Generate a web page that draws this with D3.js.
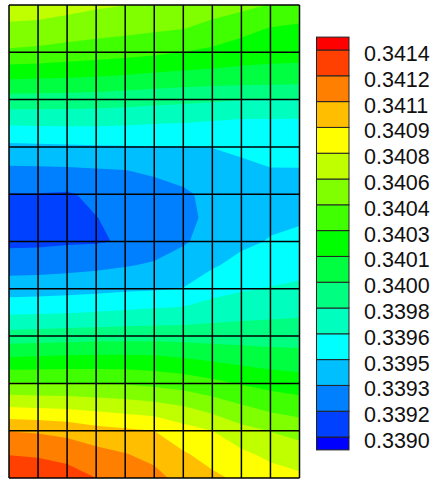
<!DOCTYPE html>
<html>
<head>
<meta charset="utf-8">
<style>
    body { margin: 0; background: #fff; }
    .cbar text { font: 21.5px "Liberation Sans", Arial, sans-serif; fill: #111; }
</style>
<script src="https://d3js.org/d3.v7.min.js"></script>
<script>
// contour levels on the colour bar, lowest first
var levels = [0.33900, 0.33916, 0.33932, 0.33948, 0.33964, 0.33980, 0.33996, 0.34012,
              0.34028, 0.34044, 0.34060, 0.34076, 0.34092, 0.34108, 0.34124, 0.34140];

// below the first level, one per band, above the last level
var bandColors = ['#0000ff', '#0040ff', '#0080ff', '#00bfff', '#00ffff', '#00ffbf',
                  '#00ff80', '#00ff40', '#00ff00', '#40ff00', '#80ff00', '#bfff00',
                  '#ffff00', '#ffbf00', '#ff8000', '#ff4000', '#ff0000'];

// nodal values, top row first (11 nodes across, 21 down)
var field = [
    [0.340696, 0.340685, 0.340653, 0.340622, 0.340603, 0.340584, 0.340576, 0.340520, 0.340485, 0.340432, 0.340368],
    [0.340560, 0.340550, 0.340528, 0.340506, 0.340486, 0.340464, 0.340443, 0.340387, 0.340328, 0.340270, 0.340256],
    [0.340416, 0.340400, 0.340374, 0.340352, 0.340333, 0.340310, 0.340278, 0.340248, 0.340202, 0.340182, 0.340174],
    [0.340155, 0.340146, 0.340139, 0.340128, 0.340110, 0.340088, 0.340072, 0.340062, 0.340059, 0.340054, 0.340051],
    [0.339896, 0.339893, 0.339888, 0.339882, 0.339867, 0.339850, 0.339837, 0.339822, 0.339805, 0.339800, 0.339795],
    [0.339658, 0.339664, 0.339666, 0.339664, 0.339658, 0.339646, 0.339637, 0.339621, 0.339605, 0.339606, 0.339603],
    [0.339445, 0.339451, 0.339459, 0.339467, 0.339470, 0.339475, 0.339478, 0.339483, 0.339506, 0.339534, 0.339538],
    [0.339288, 0.339291, 0.339296, 0.339306, 0.339317, 0.339344, 0.339376, 0.339416, 0.339448, 0.339472, 0.339472],
    [0.339155, 0.339154, 0.339144, 0.339192, 0.339240, 0.339256, 0.339296, 0.339360, 0.339419, 0.339440, 0.339419],
    [0.339096, 0.339099, 0.339104, 0.339157, 0.339200, 0.339216, 0.339285, 0.339352, 0.339416, 0.339445, 0.339456],
    [0.339123, 0.339128, 0.339141, 0.339147, 0.339173, 0.339232, 0.339304, 0.339376, 0.339445, 0.339491, 0.339525],
    [0.339251, 0.339256, 0.339267, 0.339283, 0.339309, 0.339339, 0.339390, 0.339461, 0.339533, 0.339568, 0.339590],
    [0.339405, 0.339411, 0.339422, 0.339437, 0.339454, 0.339464, 0.339485, 0.339581, 0.339624, 0.339648, 0.339667],
    [0.339616, 0.339622, 0.339632, 0.339646, 0.339662, 0.339677, 0.339690, 0.339726, 0.339750, 0.339763, 0.339774],
    [0.339869, 0.339877, 0.339886, 0.339894, 0.339899, 0.339901, 0.339896, 0.339891, 0.339890, 0.339886, 0.339888],
    [0.340154, 0.340163, 0.340176, 0.340181, 0.340181, 0.340170, 0.340139, 0.340104, 0.340072, 0.340046, 0.340030],
    [0.340454, 0.340445, 0.340445, 0.340434, 0.340427, 0.340400, 0.340371, 0.340323, 0.340270, 0.340227, 0.340200],
    [0.340760, 0.340749, 0.340736, 0.340712, 0.340688, 0.340658, 0.340610, 0.340536, 0.340461, 0.340397, 0.340360],
    [0.341075, 0.341062, 0.341032, 0.340976, 0.340947, 0.340920, 0.340821, 0.340760, 0.340653, 0.340595, 0.340542],
    [0.341234, 0.341218, 0.341186, 0.341134, 0.341088, 0.341030, 0.340938, 0.340861, 0.340794, 0.340720, 0.340680],
    [0.341384, 0.341368, 0.341320, 0.341240, 0.341192, 0.341136, 0.341016, 0.340952, 0.340888, 0.340840, 0.340792]
];

// element mesh drawn on top
var meshCols = 10;
var meshRows = 10;

function draw() {
    var width = 432, height = 481;
    var plot = {left: 9, top: 5, right: 299.5, bottom: 478};
    var nx = field[0].length, ny = field.length;

    var svg = d3.select('body').append('svg')
        .attr('width', width)
        .attr('height', height);

    // d3.contours puts node i at i + 0.5
    var x = d3.scaleLinear().domain([0.5, nx - 0.5]).range([plot.left, plot.right]);
    var y = d3.scaleLinear().domain([0.5, ny - 0.5]).range([plot.top, plot.bottom]);

    svg.append('clipPath').attr('id', 'plotclip')
        .append('rect')
        .attr('x', plot.left).attr('y', plot.top)
        .attr('width', plot.right - plot.left)
        .attr('height', plot.bottom - plot.top);

    var contours = d3.contours()
        .size([nx, ny])
        .thresholds(levels)(field.flat());

    var path = d3.geoPath(d3.geoTransform({
        point: function(px, py) { this.stream.point(x(px), y(py)); }
    }));

    var g = svg.append('g').attr('clip-path', 'url(#plotclip)');
    g.append('rect')
        .attr('x', plot.left).attr('y', plot.top)
        .attr('width', plot.right - plot.left)
        .attr('height', plot.bottom - plot.top)
        .attr('fill', bandColors[0]);
    g.selectAll('path.band')
        .data(contours)
        .enter().append('path')
        .attr('class', 'band')
        .attr('d', path)
        .attr('fill', function(d, i) { return bandColors[i + 1]; });

    // mesh lines
    var mx = d3.scaleLinear().domain([0, meshCols]).range([plot.left, plot.right]);
    var my = d3.scaleLinear().domain([0, meshRows]).range([plot.top, plot.bottom]);
    var mesh = svg.append('g')
        .attr('stroke', '#000')
        .attr('stroke-width', 1.5);
    mesh.selectAll('line.v')
        .data(d3.range(meshCols + 1))
        .enter().append('line')
        .attr('x1', function(d) { return mx(d); })
        .attr('x2', function(d) { return mx(d); })
        .attr('y1', plot.top).attr('y2', plot.bottom);
    mesh.selectAll('line.h')
        .data(d3.range(meshRows + 1))
        .enter().append('line')
        .attr('y1', function(d) { return my(d); })
        .attr('y2', function(d) { return my(d); })
        .attr('x1', plot.left).attr('x2', plot.right);

    // colour bar
    var step = levels[1] - levels[0];
    var top = levels[levels.length - 1];
    var cb = d3.scaleLinear().domain([levels[0], top]).range([437, 50]);
    var bands = bandColors.map(function(c, i) {
        var lo = i === 0 ? levels[0] - step / 2 : levels[i - 1];
        var hi = i === bandColors.length - 1 ? top + step / 2 : levels[i];
        return {color: c, lo: lo, hi: hi};
    });

    var bar = svg.append('g').attr('class', 'cbar');
    bar.selectAll('rect')
        .data(bands)
        .enter().append('rect')
        .attr('x', 316.5)
        .attr('width', 32.5)
        .attr('y', function(d) { return cb(d.hi); })
        .attr('height', function(d) { return cb(d.lo) - cb(d.hi); })
        .attr('fill', function(d) { return d.color; })
        .attr('stroke', '#222')
        .attr('stroke-width', 1);

    bar.selectAll('text')
        .data(levels)
        .enter().append('text')
        .attr('x', 364)
        .attr('y', function(d) { return cb(d) + 11; })
        .text(function(d) { return d3.format('.4f')(d); });
}
</script>
</head>
<body onload="draw()">
</body>
</html>
